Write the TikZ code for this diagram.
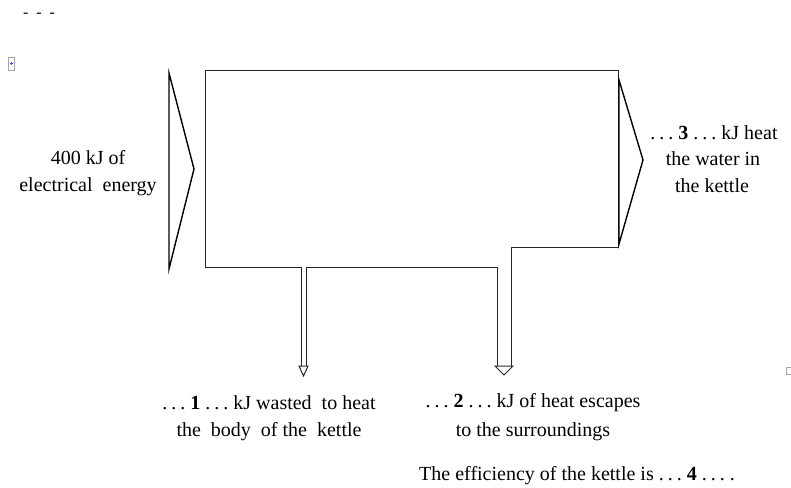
\documentclass[tikz,border=0pt]{standalone}
\usepackage{fontspec}
\setmainfont{Liberation Serif}
\newcommand{\mydots}{.\kern.2em.\kern.2em.}
\begin{document}
\begin{tikzpicture}[x=1pt,y=-1pt,
  outl/.style={draw=black!85,line width=1pt},
  tri/.style={draw=black,line width=1.4pt,line join=miter},
  lbl/.style={inner sep=0pt,font=\fontsize{20}{24}\selectfont,text=black},
  stray/.style={draw=black!35,line width=0.6pt}]
\useasboundingbox (0,0) rectangle (791,487);
% main body outline
\draw[outl] (301,366) -- (301,267) -- (205,267) -- (205,70) -- (618,70) -- (618,247) -- (511,247) -- (511,366);
\draw[outl] (306,366) -- (306,267) -- (497,267) -- (497,366);
% small arrow heads
\draw[outl,line join=miter] (299,366) -- (308,366) -- (303.5,376) -- cycle;
\draw[outl,line join=miter] (495,366) -- (513,366) -- (504,375) -- cycle;
% input and output triangles
\draw[tri] (169,73) -- (169,269) -- (194,169) -- cycle;
\draw[tri] (619,80) -- (643,160) -- (619,244) -- cycle;
% labels
\node[lbl] (in1) at (88,158) {400 kJ of};
\node[lbl] (in2) at (88,187) {electrical\ \ energy};
\node[lbl] (o1) at (714,133) {\mydots\ \textbf{3} \mydots\ kJ heat};
\node[lbl] (o2) at (713,159) {the water in};
\node[lbl] (o3) at (712,186) {the kettle};
\node[lbl] (w1) at (269,403) {\mydots\ \textbf{1} \mydots\ kJ wasted\ \ to\ heat};
\node[lbl] (w2) at (269,432) {the\ \ body\ \ of the\ \ kettle};
\node[lbl] (s1) at (533,403) {\mydots\ \textbf{2} \mydots\ kJ of heat escapes};
\node[lbl] (s2) at (533,432) {to the surroundings};
\node[lbl] (ef) at (577,476) {The efficiency of the kettle is \mydots\ \textbf{4} \mydots\ .};
% stray marks
\node[inner sep=0pt,font=\fontsize{16}{18}\selectfont] (dd) at (39,15) {-\ \ -\ \ -};
\draw[stray] (8,57) rectangle (14,70);
\draw[blue!70,line width=0.6pt] (9.5,63.5) -- (12.5,63.5) (11,62) -- (11,65);
\draw[stray] (792,367) -- (786,367) -- (786,374) -- (792,374);
\end{tikzpicture}
\end{document}
